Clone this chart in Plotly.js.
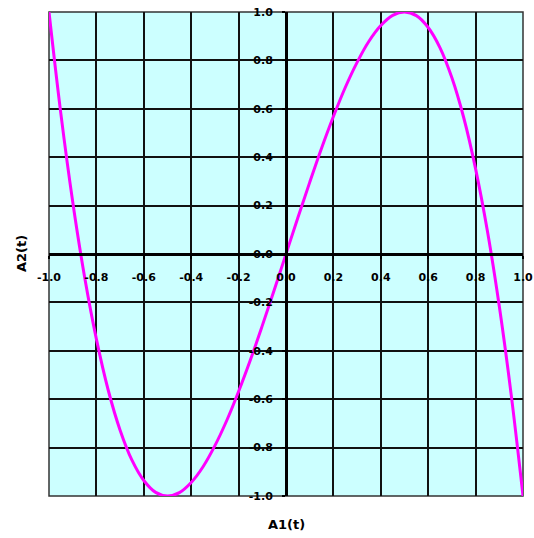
<!DOCTYPE html>
<html>
<head>
<meta charset="utf-8">
<script src="https://cdn.plot.ly/plotly-3.0.1.min.js"></script>
<style>html,body{margin:0;padding:0;background:#fff;}#chart{width:534px;height:538px;}</style>
</head>
<body>
<div id="chart"></div>
<script>
// A1(t) values
var a1 = [-1.00,-0.95,-0.90,-0.85,-0.80,-0.75,-0.70,-0.65,-0.60,-0.55,-0.50,-0.45,-0.40,-0.35,-0.30,-0.25,-0.20,-0.15,-0.10,-0.05,
          0.00,0.05,0.10,0.15,0.20,0.25,0.30,0.35,0.40,0.45,0.50,0.55,0.60,0.65,0.70,0.75,0.80,0.85,0.90,0.95,1.00];
// A2(t) values
var a2 = [1.000,0.580,0.216,-0.094,-0.352,-0.563,-0.728,-0.852,-0.936,-0.985,-1.000,-0.986,-0.944,-0.879,-0.792,-0.688,-0.568,-0.437,-0.296,-0.150,
          0.000,0.150,0.296,0.437,0.568,0.688,0.792,0.879,0.944,0.986,1.000,0.985,0.936,0.852,0.728,0.563,0.352,0.094,-0.216,-0.580,-1.000];
var tickVals = [-1.0,-0.8,-0.6,-0.4,-0.2,0.0,0.2,0.4,0.6,0.8,1.0];
var xTickText = ["-1.0","-0.8","-0.6","-0.4","-0.2","0.0","0.2","0.4","0.6","0.8","1.0"];
var yTickText = ["-1.0","-0.8","-0.6","-0.4","-0.2","0.0","0.2","0.4","0.6","0.8","1.0"];
var xTitle = "A1(t)";
var yTitle = "A2(t)";

var tickFont = {family: "DejaVu Sans, sans-serif", size: 11, color: "#000", weight: "bold"};
var titleFont = {family: "DejaVu Sans, sans-serif", size: 13, color: "#000", weight: "bold"};

var trace = {
  x: a1, y: a2, type: "scatter", mode: "lines",
  line: {color: "#ff00ff", width: 3, shape: "spline", smoothing: 1},
  hoverinfo: "skip"
};

var layout = {
  width: 534, height: 538,
  margin: {l: 49, r: 11, t: 12, b: 42, pad: 0},
  paper_bgcolor: "#ffffff",
  plot_bgcolor: "#ccffff",
  showlegend: false,
  xaxis: {
    range: [-1, 1], anchor: "free", position: 0.5,
    tickmode: "array", tickvals: tickVals, ticktext: xTickText,
    showgrid: true, gridcolor: "#111", gridwidth: 2,
    zeroline: false,
    showline: true, linecolor: "#000", linewidth: 2.5,
    ticks: "outside", ticklen: 3, tickwidth: 1.5, tickcolor: "#000",
    ticklabelstandoff: 9,
    tickfont: tickFont, fixedrange: true
  },
  yaxis: {
    range: [-1, 1], anchor: "free", position: 0.5,
    tickmode: "array", tickvals: tickVals, ticktext: yTickText,
    showgrid: true, gridcolor: "#111", gridwidth: 2,
    zeroline: false,
    showline: true, linecolor: "#000", linewidth: 2.5,
    ticks: "outside", ticklen: 3, tickwidth: 1.5, tickcolor: "#000",
    ticklabelstandoff: 7,
    tickfont: tickFont, fixedrange: true
  },
  shapes: [{
    type: "rect", xref: "paper", yref: "paper", x0: 0, x1: 1, y0: 0, y1: 1,
    line: {color: "#333", width: 1.5}, layer: "below"
  }],
  annotations: [
    {text: xTitle, xref: "paper", yref: "paper", x: 0.5, y: 0, xanchor: "center", yanchor: "middle",
     yshift: -28, showarrow: false, font: titleFont},
    {text: yTitle, xref: "paper", yref: "paper", x: 0, y: 0.5, xanchor: "center", yanchor: "middle",
     xshift: -28, textangle: -90, showarrow: false, font: titleFont}
  ]
};

Plotly.newPlot("chart", [trace], layout, {displayModeBar: false, staticPlot: true});
</script>
</body>
</html>
